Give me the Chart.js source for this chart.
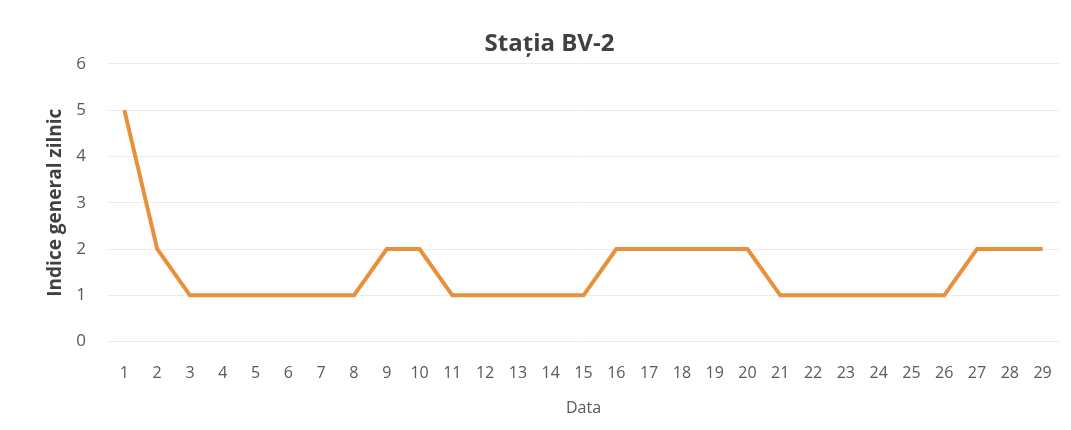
<!DOCTYPE html>
<html>
<head>
<meta charset="utf-8">
<script src="https://cdn.jsdelivr.net/npm/chart.js@4"></script>
<style>
  html, body { margin: 0; padding: 0; background: #fff; }
  #wrap { width: 1071px; height: 430px; }
</style>
</head>
<body>
<div id="wrap"><canvas id="grafic"></canvas></div>
<script>
// zilele lunii si indicele general zilnic
const zile = ['1','2','3','4','5','6','7','8','9','10','11','12','13','14','15','16','17','18','19','20','21','22','23','24','25','26','27','28','29'];
const indice = [5, 2, 1, 1, 1, 1, 1, 1, 2, 2, 1, 1, 1, 1, 1, 2, 2, 2, 2, 2, 1, 1, 1, 1, 1, 1, 2, 2, 2];
const valoriY = [0, 1, 2, 3, 4, 5, 6];

const ctx = document.getElementById('grafic').getContext('2d');
new Chart(ctx, {
    type: 'line',
    data: {
        labels: zile,
        datasets: [{
            label: 'Indice general zilnic',
            data: indice,
            borderColor: '#e8913a',
            borderWidth: 4,
            pointRadius: 0,
            tension: 0,
            fill: false
        }]
    },
    options: {
        responsive: true,
        maintainAspectRatio: false,
        animation: false,
        layout: { padding: { left: 40, right: 12, top: 30, bottom: 8 } },
        plugins: {
            legend: { display: false },
            tooltip: { enabled: false },
            title: {
                display: true,
                text: 'Stația BV-2',
                color: '#404040',
                font: { family: 'Open Sans', size: 24, weight: 'bold' },
                padding: { top: 0, bottom: 5 }
            }
        },
        scales: {
            x: {
                offset: true,
                grid: { display: false },
                border: { display: false },
                ticks: { color: '#595959', font: { family: 'Open Sans', size: 16 }, maxRotation: 0, autoSkip: false, padding: 14 },
                title: { display: true, text: 'Data', color: '#595959', font: { family: 'Open Sans', size: 16 }, padding: { top: 2 } }
            },
            y: {
                min: valoriY[0],
                max: valoriY[valoriY.length - 1],
                afterBuildTicks: axis => { axis.ticks = valoriY.map(v => ({ value: v })); },
                afterFit: axis => { axis.width = 68; },
                grid: { color: '#ececec', lineWidth: 1, drawTicks: false },
                border: { display: false },
                ticks: { color: '#595959', font: { family: 'Open Sans', size: 17 }, padding: 22 },
                title: { display: true, text: 'Indice general zilnic', color: '#404040', font: { family: 'Open Sans', size: 19, weight: 'bold' }, padding: { top: 4, bottom: 4 } }
            }
        }
    }
});
</script>
</body>
</html>
